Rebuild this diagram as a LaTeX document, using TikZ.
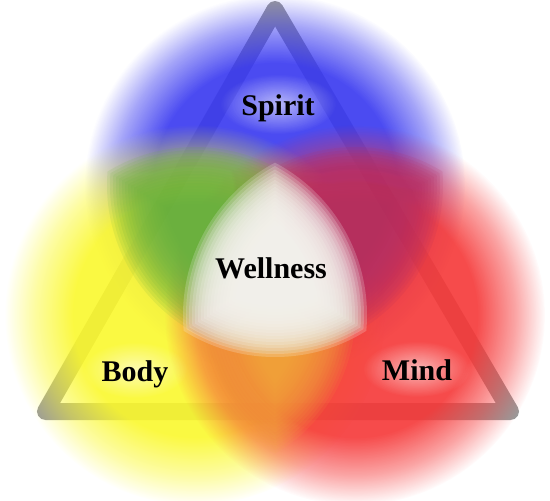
\documentclass[tikz,border=0pt]{standalone}
\usepackage{fontspec}
\setmainfont{Liberation Serif}
\usetikzlibrary{fadings}

\definecolor{spiritblue}{RGB}{55,55,240}
\definecolor{bodyyellow}{RGB}{250,248,45}
\definecolor{mindred}{RGB}{245,55,55}
\definecolor{mixgreen}{RGB}{100,175,60}
\definecolor{mixpurple}{RGB}{180,45,100}
\definecolor{mixorange}{RGB}{240,178,60}
\definecolor{wellwhite}{RGB}{245,243,238}
\definecolor{rimgray}{RGB}{154,154,154}

% opaque core, soft outer edge
\pgfdeclareradialshading{softring}{\pgfpointorigin}{color(0bp)=(white); color(16bp)=(white); color(21bp)=(white!50!black); color(25bp)=(black); color(50bp)=(black)}
\pgfdeclarefading{softdisc}{\pgfuseshading{softring}}
\tikzfading[name=glowfade, inner color=transparent!0, outer color=transparent!100]

\tikzset{
  blob/.style={fill=#1, path fading=softdisc, opacity=0.9},
  rim/.style={draw=rimgray, line width=17pt, line join=round},
  glow/.style={fill=white, path fading=glowfade, opacity=0.6},
  wordtag/.style={font=\bfseries\fontsize{30}{31}\selectfont, text=black, inner sep=0pt, anchor=base},
}

\begin{document}
\begin{tikzpicture}[x=1pt,y=-1pt]
\useasboundingbox (0,0) rectangle (550,501);
% centres of the circles
\coordinate (S) at (275,185);
\coordinate (B) at (195,315);
\coordinate (M) at (355,315);
% triangle corners
\coordinate (top) at (275,9.5);
\coordinate (left) at (45.5,411.5);
\coordinate (right) at (510.5,411.5);
\draw[rim] (top) -- (left) -- (right) -- cycle;
% the three soft circles
\fill[blob=spiritblue] (S) circle[radius=190pt];
\fill[blob=bodyyellow] (B) circle[radius=190pt];
\fill[blob=mindred] (M) circle[radius=190pt];
% overlaps, built up in thin layers
\foreach \d in {0,3,...,57} {
  \begin{scope}
    \clip (S) circle[radius={(168-\d)*1pt}];
    \fill[mixgreen, opacity=0.12] (B) circle[radius={(168-\d)*1pt}];
  \end{scope}
  \begin{scope}
    \clip (S) circle[radius={(168-\d)*1pt}];
    \fill[mixpurple, opacity=0.12] (M) circle[radius={(168-\d)*1pt}];
  \end{scope}
  \begin{scope}
    \clip (B) circle[radius={(160-\d)*1pt}];
    \fill[mixorange, opacity=0.09] (M) circle[radius={(160-\d)*1pt}];
  \end{scope}
}
\foreach \d in {0,3,...,51} {
  \begin{scope}
    \clip (S) circle[radius={(172-\d)*1pt}];
    \clip (B) circle[radius={(172-\d)*1pt}];
    \fill[wellwhite, opacity=0.22] (M) circle[radius={(172-\d)*1pt}];
  \end{scope}
}
% glows behind the words
\fill[glow] (278,104) ellipse (58pt and 30pt);
\fill[glow] (135,370) ellipse (52pt and 28pt);
\fill[glow] (417,369) ellipse (54pt and 28pt);
% words
\node[wordtag] (spirit) at (278,115) {Spirit};
\node[wordtag] (wellness) at (271,278) {Wellness};
\node[wordtag] (body) at (135,381) {Body};
\node[wordtag] (mind) at (417,380) {Mind};
\end{tikzpicture}
\end{document}
